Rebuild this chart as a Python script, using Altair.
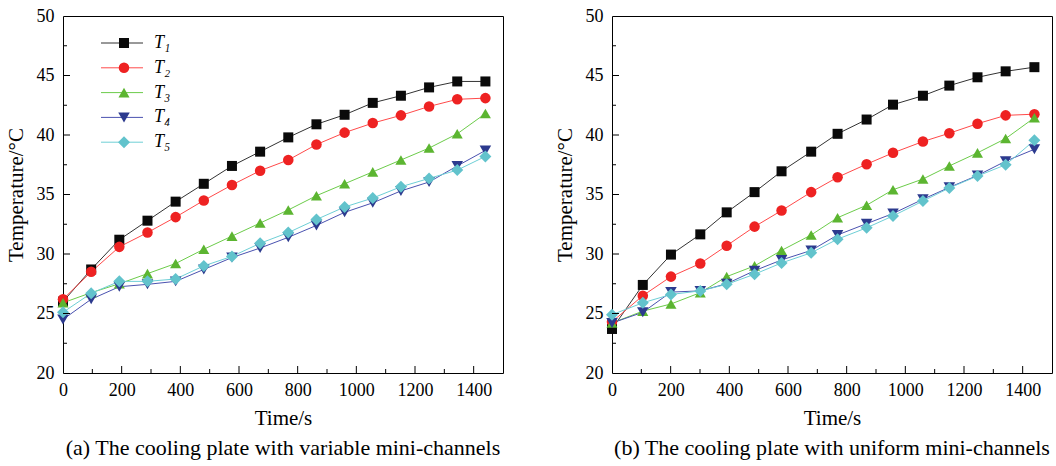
import altair as alt
import pandas as pd

series_names = ["T\u2081", "T\u2082", "T\u2083", "T\u2084", "T\u2085"]
marker_keys = ["k1", "k2", "k3", "k4", "k5"]
line_colors = ["#333333", "#ff4a4a", "#6ccc4a", "#4a52b0", "#6ecfd6"]
marker_colors = ["#0a0a0a", "#ee2222", "#5cb531", "#2c3a8e", "#62c3cc"]
marker_shapes = ["square", "circle", "triangle-up", "triangle-down", "diamond"]
marker_sizes = [100, 144, 150, 150, 150]

time_a = [0, 96, 192, 288, 384, 480, 576, 672, 768, 864, 960, 1056, 1152, 1248, 1344, 1440]
a_T1 = [26.0, 28.7, 31.2, 32.8, 34.4, 35.9, 37.4, 38.6, 39.8, 40.9, 41.7, 42.7, 43.3, 44.0, 44.5, 44.5]
a_T2 = [26.2, 28.5, 30.6, 31.8, 33.1, 34.5, 35.8, 37.0, 37.9, 39.2, 40.2, 41.0, 41.65, 42.4, 43.0, 43.1]
a_T3 = [25.9, 26.75, 27.5, 28.35, 29.2, 30.4, 31.5, 32.6, 33.7, 34.9, 35.9, 36.9, 37.9, 38.9, 40.1, 41.8]
a_T4 = [24.5, 26.2, 27.25, 27.45, 27.7, 28.7, 29.7, 30.5, 31.4, 32.4, 33.5, 34.3, 35.3, 36.05, 37.4, 38.7]
a_T5 = [25.1, 26.7, 27.7, 27.7, 27.9, 29.0, 29.8, 30.9, 31.8, 32.9, 33.95, 34.7, 35.65, 36.35, 37.05, 38.2]

time_b = [0, 105, 201, 301, 391, 486, 578, 679, 769, 868, 958, 1060, 1150, 1246, 1342, 1440]
b_T1 = [23.7, 27.4, 29.95, 31.65, 33.5, 35.2, 36.95, 38.6, 40.1, 41.3, 42.55, 43.3, 44.15, 44.85, 45.35, 45.7]
b_T2 = [24.3, 26.5, 28.1, 29.2, 30.7, 32.3, 33.65, 35.2, 36.45, 37.55, 38.5, 39.45, 40.15, 40.95, 41.65, 41.75]
b_T3 = [24.2, 25.2, 25.8, 26.75, 28.1, 29.0, 30.3, 31.6, 33.05, 34.1, 35.4, 36.3, 37.4, 38.5, 39.7, 41.45]
b_T4 = [24.2, 25.1, 26.8, 26.9, 27.5, 28.6, 29.5, 30.3, 31.6, 32.55, 33.4, 34.6, 35.6, 36.6, 37.8, 38.8]
b_T5 = [24.9, 25.9, 26.6, 26.9, 27.45, 28.3, 29.25, 30.1, 31.25, 32.2, 33.2, 34.45, 35.55, 36.55, 37.5, 39.55]

x_labels = [0, 200, 400, 600, 800, 1000, 1200, 1400]
x_major_ticks = [200, 400, 600, 800, 1000, 1200, 1400]
x_minor_ticks = [100, 300, 500, 700, 900, 1100, 1300]
y_labels = [20, 25, 30, 35, 40, 45, 50]
y_major_ticks = [25, 30, 35, 40, 45]
y_minor_ticks = [22.5, 27.5, 32.5, 37.5, 42.5, 47.5]

titles = ["(a) The cooling plate with variable mini-channels",
          "(b) The cooling plate with uniform mini-channels"]

FONT = "Liberation Serif"
W, H = 440, 357


def panel(times, vals, title, show_legend):
    rows = []
    for name, key, vs in zip(series_names, marker_keys, vals):
        for t, v in zip(times, vs):
            rows.append({"Time": t, "Temp": v, "Series": name, "Key": key})
    df = pd.DataFrame(rows)

    xaxis = alt.Axis(values=x_labels, title="Time/s", ticks=False, domain=False,
                     grid=False, labelPadding=8, titlePadding=8, format="d",
                     titleFontWeight="normal", labelFlush=False)
    yaxis = alt.Axis(values=y_labels, title="Temperature/\u00b0C", ticks=False, domain=False,
                     grid=False, labelPadding=9, titlePadding=10, format="d",
                     titleFontWeight="normal", labelFlush=False)
    xscale = alt.Scale(domain=[0, 1500], nice=False)
    yscale = alt.Scale(domain=[20, 50], nice=False)

    def X(field="Time"):
        return alt.X(field + ":Q", scale=xscale, axis=xaxis)

    def Y(field="Temp"):
        return alt.Y(field + ":Q", scale=yscale, axis=yaxis)

    if show_legend:
        legA = alt.Legend(orient="none", legendX=50, legendY=18, title=None,
                          symbolType="M-3,0L3,0", symbolSize=196, symbolStrokeWidth=1,
                          labelFont=FONT, labelFontSize=18, labelFontStyle="italic",
                          labelColor="black", labelOffset=23, rowPadding=6.8, padding=0)
        legB = alt.Legend(orient="none", legendX=52, legendY=18, title=None,
                          symbolStrokeWidth=0,
                          labelFont=FONT, labelFontSize=18, labelColor="transparent",
                          rowPadding=6.8, padding=0)
    else:
        legA = None
        legB = None

    lines = alt.Chart(df).mark_line(strokeWidth=1).encode(
        x=X(), y=Y(),
        stroke=alt.Stroke("Series:N", scale=alt.Scale(domain=series_names, range=line_colors), legend=legA),
    )
    points = alt.Chart(df).mark_point(filled=True, opacity=1).encode(
        x=X(), y=Y(),
        fill=alt.Fill("Key:N", scale=alt.Scale(domain=marker_keys, range=marker_colors), legend=legB),
        shape=alt.Shape("Key:N", scale=alt.Scale(domain=marker_keys, range=marker_shapes), legend=legB),
        size=alt.Size("Key:N", scale=alt.Scale(domain=marker_keys, range=marker_sizes), legend=legB),
    )

    xmaj = alt.Chart(pd.DataFrame({"Time": x_major_ticks})).mark_rule(color="black", strokeWidth=1).encode(
        x=X(), y=alt.value(H), y2=alt.value(H - 7))
    xmin = alt.Chart(pd.DataFrame({"Time": x_minor_ticks})).mark_rule(color="black", strokeWidth=1).encode(
        x=X(), y=alt.value(H), y2=alt.value(H - 4))
    ymaj = alt.Chart(pd.DataFrame({"Temp": y_major_ticks})).mark_rule(color="black", strokeWidth=1).encode(
        y=Y(), x=alt.value(0), x2=alt.value(7))
    ymin = alt.Chart(pd.DataFrame({"Temp": y_minor_ticks})).mark_rule(color="black", strokeWidth=1).encode(
        y=Y(), x=alt.value(0), x2=alt.value(4))

    return alt.layer(lines, points, xmaj, xmin, ymaj, ymin).properties(
        width=W, height=H,
        title=alt.TitleParams(title, orient="bottom", font=FONT, fontSize=22, fontWeight="normal",
                              color="black", offset=10),
    ).resolve_scale(stroke="independent", fill="independent", shape="independent", size="independent")


left = panel(time_a, [a_T1, a_T2, a_T3, a_T4, a_T5], titles[0], True)
right = panel(time_b, [b_T1, b_T2, b_T3, b_T4, b_T5], titles[1], False)

chart = alt.hconcat(left, right, spacing=49).resolve_scale(
    stroke="independent", fill="independent", shape="independent", size="independent"
).properties(
    padding={"left": 4, "top": 6, "right": 0, "bottom": 0},
    background="white",
).configure_view(
    stroke="black", strokeWidth=1
).configure_axis(
    labelFont=FONT, labelFontSize=18, labelColor="black",
    titleFont=FONT, titleFontSize=21, titleColor="black", titleFontWeight="normal",
)

chart.save("out.html", embed_options={"renderer": "svg", "actions": False})
